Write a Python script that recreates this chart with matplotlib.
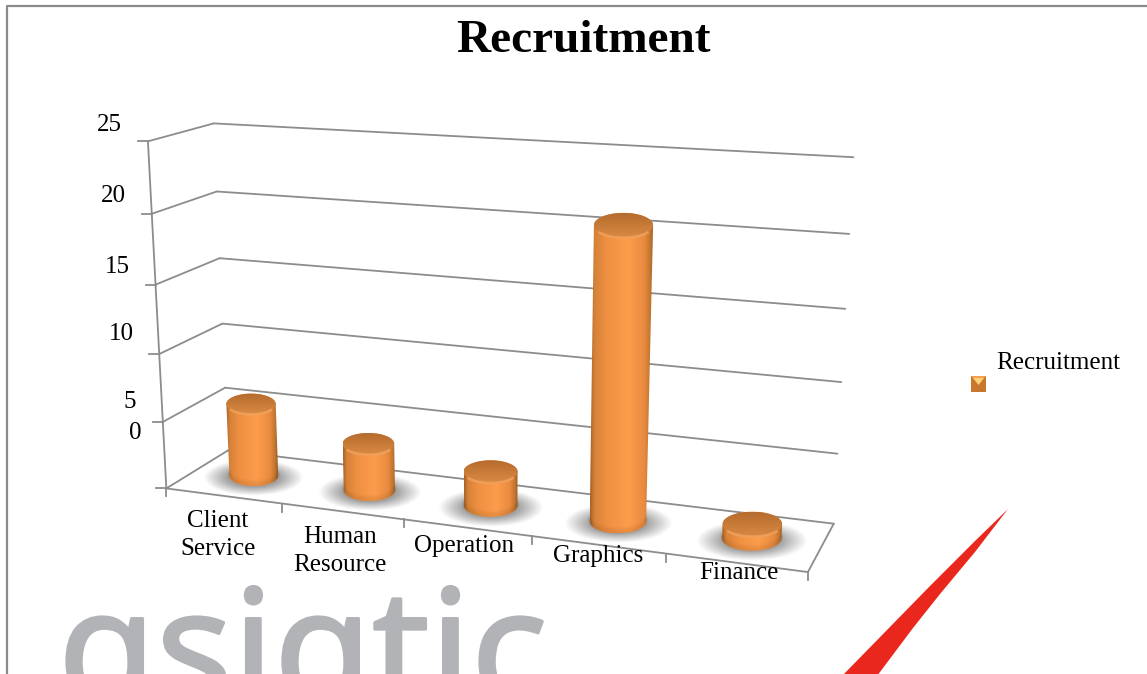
import numpy as np
import matplotlib
matplotlib.use('Agg')
import matplotlib.pyplot as plt
import matplotlib.patheffects as pe
from matplotlib.colors import LinearSegmentedColormap
from matplotlib.patches import Polygon

categories = ['Client\nService', 'Human\nResource', 'Operation', 'Graphics', 'Finance']
values = [5.5, 3.5, 2.5, 20.5, 1]
value_ticks = [0, 5, 10, 15, 20, 25]
title = 'Recruitment'
legend_label = 'Recruitment'

# where the chart box sits on the page: (category pos, depth, value) -> pixel
cal_world = [(0, 0, 0), (0, 0, 5), (0, 0, 10), (0, 0, 15), (0, 0, 20), (0, 0, 25),
             (0, 1, 0), (0, 1, 5), (0, 1, 10), (0, 1, 15), (0, 1, 20), (0, 1, 25),
             (5, 1, 0), (5, 1, 5), (5, 1, 10), (5, 1, 15), (5, 1, 20), (5, 1, 25),
             (1, 0, 0), (2, 0, 0), (3, 0, 0), (4, 0, 0), (5, 0, 0)]
cal_pixel = [(167, 487), (163, 421), (159, 353), (155, 285), (152, 214), (148, 141),
             (228, 452), (225, 388), (222, 323), (219, 258), (217, 192), (214, 124),
             (833, 522), (838, 453), (842, 382), (846, 309), (849, 234), (853, 157),
             (282, 503), (403, 520), (534, 538), (665, 555), (807, 572)]

# tick label positions as they appear in the picture
ytick_pos = [(141, 433), (136, 402), (134, 334), (130, 267), (126, 196), (122, 125)]
xtick_pos = [(218, 535), (340, 551), (464, 546), (598, 556), (739, 573)]

# red logo stroke at the bottom right
swoosh = [(1008, 509), (975, 541), (930, 586), (842, 676),
          (877, 676), (913, 628), (940, 594), (975, 552)]

GRID = '#8c8c8c'
SERIF = 'Liberation Serif'


def fit_camera(world, pixel):
    rows, rhs = [], []
    for (x, z, y), (u, v) in zip(world, pixel):
        rows.append([x, z, y, 1, 0, 0, 0, 0, -u * x, -u * z, -u * y])
        rows.append([0, 0, 0, 0, x, z, y, 1, -v * x, -v * z, -v * y])
        rhs += [u, v]
    p = np.linalg.lstsq(np.array(rows, float), np.array(rhs, float), rcond=None)[0]
    return np.append(p, 1).reshape(3, 4)


cam = fit_camera(cal_world, cal_pixel)


def project(x, z, y):
    x, z, y = np.broadcast_arrays(x, z, y)
    pts = cam @ np.vstack([x.ravel(), z.ravel(), y.ravel(), np.ones(x.size)])
    return pts[0] / pts[2], pts[1] / pts[2]


def seg(a, b, **kw):
    xs, ys = project(*zip(a, b))
    ax.plot(xs, ys, color=GRID, lw=1.3, solid_capstyle='round', zorder=1, **kw)


fig = plt.figure(figsize=(11.47, 6.74), dpi=100)
ax = fig.add_axes([0, 0, 1, 1])
ax.axis('off')

# watermark behind the chart
ax.text(58, 704, 'ɑsiɑtic', fontsize=115, color='#b1b3b6', ha='left', va='baseline',
        family=['Noto Sans', 'DejaVu Sans'], zorder=0,
        path_effects=[pe.withStroke(linewidth=2, foreground='#b1b3b6')])
ax.add_patch(Polygon(swoosh, closed=True, fc='#e9271d', ec='none', zorder=0))

# page border
ax.plot([7, 7, 1147], [674, 6, 6], color='#8a8a8a', lw=1.6, zorder=1)

# walls and floor
for v in value_ticks:
    seg((0, 0, v), (0, 1, v))
    seg((0, 1, v), (5, 1, v))
    px, py = project(0, 0, v)
    ax.plot([px[0] - 10, px[0]], [py[0], py[0]], color=GRID, lw=1.3, zorder=1)
seg((0, 0, 0), (0, 0, 25))
seg((0, 0, 0), (5, 0, 0))
seg((5, 0, 0), (5, 1, 0))
for i in range(6):
    px, py = project(i, 0, 0)
    ax.plot([px[0], px[0]], [py[0], py[0] + 8], color=GRID, lw=1.3, zorder=1)

body_cmap = LinearSegmentedColormap.from_list('body', [
    (0, '#a8622a'), (0.07, '#d58238'), (0.25, '#ee8f42'), (0.6, '#fc9d4c'),
    (0.85, '#e98b40'), (0.95, '#c0752f'), (1, '#9a5a25')])
cap_cmap = LinearSegmentedColormap.from_list('cap', ['#b56c2e', '#c87b38', '#d98a44'])

theta_front = np.linspace(np.pi, 2 * np.pi, 61)
theta_back = np.linspace(0, np.pi, 61)
theta = np.concatenate([theta_front, theta_back[1:-1]])
rad_x, squash = 0.215, 0.42


def ring(th, cx, val):
    # ellipses stay level on the page, only their size follows the perspective
    mx, my = project(cx, 0.5, val)
    edge, _ = project(cx + rad_x, 0.5, val)
    a = edge[0] - mx[0]
    return mx[0] + a * np.cos(th), my[0] - a * squash * np.sin(th)


for i, val in enumerate(values):
    cx = i + 0.5
    bx, by = ring(theta, cx, 0)
    tx, ty = ring(theta, cx, val)

    # soft shadow on the floor
    sx, sy = project(cx, 0.5, 0)
    w, h = (bx.max() - bx.min()) * 0.5 + 26, (by.max() - by.min()) * 0.5 + 8
    gx, gy = np.meshgrid(np.linspace(-1, 1, 80), np.linspace(-1, 1, 50))
    r = np.sqrt(gx ** 2 + gy ** 2)
    rgba = np.zeros(r.shape + (4,))
    rgba[..., :3] = 0.55
    rgba[..., 3] = np.clip((1 - r) * 1.7, 0, 0.8)
    ax.imshow(rgba, extent=(sx[0] - w, sx[0] + w, sy[0] + h + 2, sy[0] - h + 2), aspect='auto', zorder=2)

    # body: front half of the base joined to back half of the top
    fx, fy = ring(theta_front, cx, 0)
    kx, ky = ring(theta_back, cx, val)
    outline = np.vstack([np.column_stack([fx, fy]), np.column_stack([kx, ky])])
    clip = Polygon(outline, closed=True, transform=ax.transData)
    grad = np.linspace(0, 1, 200).reshape(1, -1)
    im = ax.imshow(grad, cmap=body_cmap, aspect='auto', zorder=3 + i * 0.1,
                   extent=(outline[:, 0].min(), outline[:, 0].max(), outline[:, 1].max(), outline[:, 1].min()))
    im.set_clip_path(clip)

    # darker rim at the foot
    for lift, alpha in [(1, 0.1), (3, 0.07), (5, 0.04)]:
        ax.plot(fx, fy - lift, color='#6e3c12', lw=2.2, alpha=alpha, zorder=3.02 + i * 0.1)

    # top cap, lighter along its front edge
    cap = Polygon(np.column_stack([tx, ty]), closed=True, transform=ax.transData)
    im2 = ax.imshow(np.linspace(0, 1, 50).reshape(-1, 1), cmap=cap_cmap, aspect='auto', zorder=3.04 + i * 0.1,
                    extent=(tx.min(), tx.max(), ty.max(), ty.min()))
    im2.set_clip_path(cap)
    rx, ry = ring(theta_front[12:-12], cx, val)
    ax.plot(rx, ry, color='#f2a35c', lw=1.8, alpha=0.8, zorder=3.06 + i * 0.1)

ax.set_xlim(0, 1147)
ax.set_ylim(674, 0)

# texts
ax.text(583, 41, title, fontsize=34, fontweight='bold', family=SERIF, ha='center', va='center', color='black', zorder=6)
for v, (px, py) in zip(value_ticks, ytick_pos):
    ax.text(px, py, str(v), fontsize=18, family=SERIF, ha='right', va='center', zorder=6)
for name, (px, py) in zip(categories, xtick_pos):
    ax.text(px, py, name, fontsize=18, family=SERIF, ha='center', va='center', linespacing=1.32, zorder=6)

# legend
ax.text(996, 363, legend_label, fontsize=18, family=SERIF, ha='left', va='center', zorder=6)
ax.add_patch(Polygon([(971, 376), (986, 376), (986, 392), (971, 392)], fc='#c9772f', ec='none', zorder=5))
ax.add_patch(Polygon([(973, 378), (984, 378), (978.5, 385)], fc='#ffd27a', ec='none', zorder=5.1))
ax.add_patch(Polygon([(971, 376), (986, 376), (984, 378), (973, 378)], fc='#f4a04c', ec='none', zorder=5.1))

fig.savefig('out.png', dpi=100)
